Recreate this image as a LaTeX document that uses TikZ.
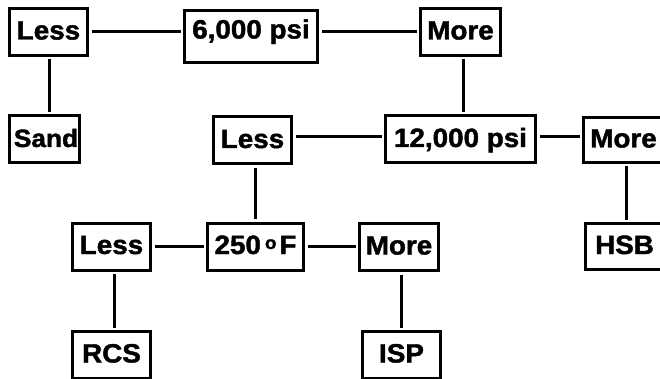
\documentclass[tikz,border=0pt]{standalone}
\usepackage{fontspec}
\setmainfont{Liberation Sans}
\newfontfamily\boxfont{Liberation Sans}[FakeStretch=1.05, FakeBold=1.6]
\begin{document}
\begin{tikzpicture}[x=1pt,y=-1pt,
  box/.style={draw, line width=3pt, inner sep=0pt, outer sep=4pt,
    minimum height=47pt, text height=19pt, text depth=4pt,
    font=\boxfont\bfseries\fontsize{26.5}{26.5}\selectfont},
  link/.style={line width=3pt}]
\useasboundingbox (0,0) rectangle (660,379);
\clip (0,0) rectangle (660,379);

% decision nodes and outcomes
\node[box, minimum width=78pt] (l1) at (48.5,32) {Less};
\node[box, minimum width=133pt, minimum height=52pt, text depth=15pt] (p6) at (251,36.5) {6,000 psi};
\node[box, minimum width=80pt] (m1) at (460.5,32) {More};
\node[box, minimum width=70pt, font=\boxfont\bfseries\fontsize{25}{25}\selectfont] (sand) at (44.5,139.5)
  {\hspace*{1.5pt}Sand\hspace*{-1.5pt}};
\node[box, minimum width=78pt] (l2) at (252.5,140.5) {Less};
\node[box, minimum width=150pt] (p12) at (460.5,139.5) {12,000 psi};
\node[box, minimum width=80pt, minimum height=45pt] (m2) at (623.5,140) {More};
\node[box, minimum width=78pt, minimum height=46pt] (hsb) at (624.5,246.5) {HSB};
\node[box, minimum width=78pt] (l3) at (111.5,246.5) {Less};
\node[box, minimum width=96pt] (f250) at (255.5,246.5)
  {250\hspace{4pt}\raisebox{5pt}{\fontsize{18}{18}\selectfont o}\hspace{3pt}F};
\node[box, minimum width=79pt] (m3) at (399,247) {More};
\node[box, minimum width=78pt] (rcs) at (111.5,355) {RCS};
\node[box, minimum width=78pt] (isp) at (401.5,355) {ISP};

% horizontal connectors
\draw[link] (l1.east) -- (l1.east -| p6.west);
\draw[link] (m1.west) -- (m1.west -| p6.east);
\draw[link] ([yshift=2.5pt]p12.west) -- ([yshift=2.5pt]p12.west -| l2.east);
\draw[link] ([yshift=2.5pt]p12.east) -- ([yshift=2.5pt]p12.east -| m2.west);
\draw[link] (f250.west) -- (f250.west -| l3.east);
\draw[link] (f250.east) -- (f250.east -| m3.west);

% vertical connectors
\draw[link] ([xshift=1pt]l1.south) -- ([xshift=1pt]l1.south |- sand.north);
\draw[link] ([xshift=2.5pt]m1.south) -- ([xshift=2.5pt]m1.south |- p12.north);
\draw[link] ([xshift=2.5pt]l2.south) -- ([xshift=2.5pt]l2.south |- f250.north);
\draw[link] ([xshift=2.5pt]m2.south) -- ([xshift=2.5pt]m2.south |- hsb.north);
\draw[link] ([xshift=2.5pt]l3.south) -- ([xshift=2.5pt]l3.south |- rcs.north);
\draw[link] ([xshift=2pt]m3.south) -- ([xshift=2pt]m3.south |- isp.north);
\end{tikzpicture}
\end{document}
